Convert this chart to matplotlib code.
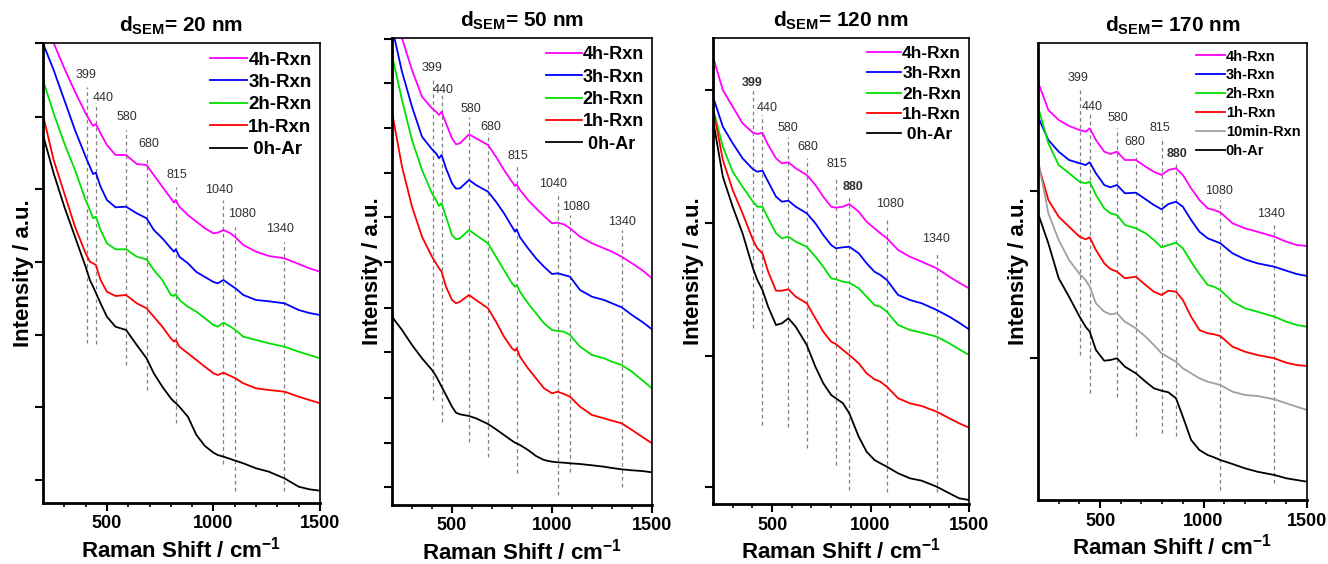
import matplotlib
matplotlib.use('Agg')
import matplotlib.pyplot as plt
from matplotlib.ticker import FixedLocator

plt.rcParams['font.family'] = ['Liberation Sans', 'DejaVu Sans']
plt.rcParams['mathtext.fontset'] = 'custom'
plt.rcParams['mathtext.rm'] = 'Liberation Sans'
plt.rcParams['mathtext.bf'] = 'Liberation Sans:bold'

# ---- d_SEM = 20 nm ----
x20 = [200, 250, 300, 350, 400, 420, 435, 448, 470, 500, 540, 590, 640, 686, 720, 760, 800, 815, 823, 840,
       880, 920, 960, 1000, 1020, 1047, 1080, 1103, 1140, 1200, 1260, 1333, 1400, 1450, 1500]
m20 = [490, 460, 434.7, 411.3, 389.7, 382.3, 377, 379, 369.7, 358, 348, 348, 339, 338, 328, 316.3, 304.7, 300.3, 303, 296.3,
       288, 281.3, 274.7, 269.7, 270.3, 273, 269.7, 265.7, 258, 251.3, 247, 244.7, 239, 234.7, 231.3]
b20 = [459.7, 433, 403, 373, 346.3, 336.3, 329, 330.3, 316.3, 303, 295.7, 296.3, 289.7, 284.7, 273, 264.7, 254.7, 251.3, 253.7, 246.3,
       239.7, 231, 226, 221, 219.7, 223, 218, 214.7, 208, 203, 201.7, 199.7, 193, 190, 188]
g20 = [423, 389.7, 359.7, 333, 303, 293, 284.7, 286.3, 273, 259.7, 253.7, 253.7, 246.3, 243.7, 233, 223, 208, 207, 209, 203,
       196.3, 191.3, 184.7, 178, 176.3, 180.3, 176.3, 173, 166.3, 163, 159.7, 156.3, 151.3, 148, 144.7]
r20 = [388, 343, 309.7, 276.3, 249.7, 241.3, 239.7, 238, 223, 211.3, 207, 208, 199.7, 194.7, 186.3, 176.3, 164.7, 161.3, 163, 156.3,
       149.7, 143, 136.3, 129.7, 128, 130.3, 127, 124.7, 119.7, 114.7, 113, 111.3, 106.3, 103, 99.7]
k20 = [368, 329.7, 296.3, 266.3, 236.3, 223, 216.3, 210.3, 199.7, 186.3, 176.3, 173, 158, 144.7, 129.7, 116.3, 104.7, 101.3, 100, 96.3,
       86.3, 68, 57, 50.3, 48, 46.3, 44, 42.3, 39.7, 34.7, 31.3, 24.7, 16.3, 13.7, 12.3]
peaks20 = ['399', '440', '580', '680', '815', '1040', '1080', '1340']
line20_x = [405, 448, 590, 686, 823, 1047, 1103, 1333]
line20_top = [416, 400, 373, 346, 316, 303, 276, 261]
line20_bot = [160, 159, 138, 113, 80, 39, 12, 12]
lab20_x = [402, 482, 595, 698, 830, 1027, 1136, 1314]
lab20_y = [428, 405, 386, 359, 328, 313, 289, 274]

# ---- d_SEM = 50 nm ----
x50 = [200, 250, 300, 350, 400, 420, 435, 448, 470, 500, 520, 540, 585, 620, 680, 720, 760, 800, 815, 823,
       840, 880, 920, 960, 1000, 1028, 1060, 1090, 1140, 1200, 1260, 1300, 1348, 1400, 1450, 1500]
m50 = [510, 466.7, 435, 408.3, 396.7, 393.3, 390, 393.3, 381.7, 366.7, 360.7, 361.7, 370.7, 366.7, 360, 348.3, 335, 323.3, 319, 320.7,
       315, 305, 296.7, 289, 281.7, 282.3, 280.7, 276.7, 268.3, 261.7, 256.7, 253.3, 248.3, 241.7, 235, 226.7]
b50 = [478, 433.3, 398.3, 368.3, 355.7, 351.7, 346.7, 350, 336.7, 321.7, 316.3, 316.7, 325, 320, 313.3, 303.3, 291.7, 278.3, 273.3, 275.7,
       267.7, 256.7, 246.7, 238.3, 231, 231.7, 230, 228.3, 215, 208.3, 205, 201.7, 197.7, 190, 183.3, 175.7]
g50 = [450, 405, 365, 335, 311.7, 305, 299, 301.7, 288.3, 270, 265.7, 266.7, 275, 270, 261.7, 248.3, 235, 221.7, 218.3, 220,
       213.3, 201.7, 191.7, 181.7, 175, 174, 173.3, 170, 158.3, 150, 146.7, 143.3, 140, 133.3, 125, 116.7]
r50 = [393, 338.3, 298.3, 268.3, 248.3, 241.7, 236.7, 233.3, 218.3, 205, 201.7, 203.3, 210, 205, 196.7, 183.3, 168.3, 156.7, 154.3, 156.7,
       148.3, 136.7, 126.7, 116.7, 111.7, 113.3, 111, 108.3, 98.3, 90, 86.7, 84.3, 81.7, 75, 68.3, 61.7]
k50 = [188.3, 175, 160, 146.7, 135, 129, 123.3, 118.3, 110, 98.3, 92.3, 90.7, 89, 86.7, 81, 75.7, 70, 64.3, 62.3, 61.7,
       60, 55, 49, 45, 43.3, 42.7, 42.3, 41.7, 41, 39.7, 38.3, 37, 35.7, 34.7, 34, 32.7]
peaks50 = ['399', '440', '580', '680', '815', '1040', '1080', '1340']
line50_x = [403, 448, 585, 680, 823, 1028, 1090, 1348]
line50_top = [428, 410, 388, 372, 340, 313, 290, 275]
line50_bot = [105, 83, 63, 48, 32, 10, 33, 18]
lab50_x = [400, 455, 595, 695, 830, 1005, 1120, 1350]
lab50_y = [437, 415, 396, 378, 349, 321, 298, 283]

# ---- d_SEM = 120 nm ----
x120 = [200, 250, 300, 350, 403, 425, 451, 480, 520, 550, 583, 620, 676, 720, 760, 800, 824, 860, 892, 940,
        980, 1020, 1050, 1083, 1140, 1200, 1260, 1336, 1400, 1450, 1500]
m120 = [447, 414, 397.3, 380.7, 371.3, 370, 371.3, 359, 345.7, 340.7, 341.7, 335.7, 329, 319, 307.3, 297.3, 296.3, 297.3, 300, 292.3,
        282.3, 275.7, 270.7, 265.7, 254, 247.3, 242.3, 235.7, 227.3, 221.3, 215.7]
b120 = [407.3, 377.3, 360.7, 345.7, 334.7, 332.3, 333.3, 322.3, 307.3, 302.3, 303.3, 297.3, 290.7, 280.7, 269, 259, 255.7, 256.7, 257.3, 250.7,
        240.7, 232.3, 229, 224, 209, 204, 200.7, 194, 187.3, 181.3, 174.7]
g120 = [395.7, 357.3, 332.3, 317.3, 302.3, 297.3, 297.3, 285.7, 270.7, 265.7, 267.3, 262.3, 257.3, 247.3, 237.3, 225.7, 224.7, 222.3, 221.3, 215.7,
        207.3, 199, 197.3, 192.3, 179, 174, 171.3, 167.3, 160.7, 154.7, 149]
r120 = [395.7, 344, 314, 290.7, 264, 255.7, 250.7, 232.3, 213.3, 213.3, 214.7, 207.3, 200.7, 185.7, 172.3, 162.3, 160, 154, 149, 140.7,
        130.7, 124.7, 122.3, 117.3, 105.7, 100.7, 98, 92.3, 85.7, 80.7, 76.3]
k120 = [384, 327.3, 297.3, 270.7, 235.7, 224, 214, 197.3, 179, 180.7, 185.7, 177.3, 159, 137.3, 120.7, 109, 105.7, 100.7, 90.7, 67.3,
        52.3, 44, 40.7, 37.3, 30.7, 25.7, 23.3, 17.3, 10.7, 5.7, 4]
peaks120 = ['399', '440', '580', '680', '815', '880', '1080', '1340']
line120_x = [403, 451, 583, 676, 824, 892, 1083, 1336]
line120_top = [414, 389, 367, 346, 327, 307, 286, 251]
line120_bot = [176, 79, 77, 56, 39, 14, 12, 12]
lab120_x = [397, 473, 580, 681, 828, 909, 1098, 1332]
lab120_y = [421, 396, 376, 357, 340, 317, 300, 265]

# ---- d_SEM = 170 nm ----
x170 = [200, 250, 300, 350, 401, 430, 450, 480, 520, 550, 582, 620, 673, 720, 760, 797, 830, 867, 900, 940,
        980, 1020, 1050, 1081, 1140, 1200, 1260, 1342, 1400, 1450, 1500]
m170 = [418, 390, 380, 374, 370, 368.3, 371.7, 360, 348.3, 346, 348.3, 340, 340, 333.3, 328.3, 325, 330, 331.7, 325, 311.7,
        300, 291.7, 290, 287.7, 276.7, 271.7, 268.3, 263.3, 258.3, 255, 254]
b170 = [383.3, 360, 348.3, 340, 336.7, 335, 337.7, 326.7, 315, 312.7, 315, 306.7, 307.3, 300.7, 295, 290.7, 296, 298.3, 293.3, 280,
        268.3, 261.7, 259.3, 256.7, 246.7, 240.7, 236.7, 233.3, 229.3, 226, 224]
g170 = [393.3, 356.7, 335, 326.7, 318.3, 316.7, 318.3, 305, 291.7, 286.7, 285, 275, 271.7, 266.7, 260, 252.7, 255, 257.3, 251.7, 238.3,
        226, 215, 213.3, 210, 198.3, 191.7, 188.3, 183.3, 178.3, 175, 173.3]
r170 = [336.7, 300, 283.3, 273.3, 263.3, 260.7, 262.7, 250, 236.7, 231, 228.3, 221.7, 223.3, 215, 208.3, 205, 209.3, 208.3, 200, 183.3,
        170, 166.7, 165.7, 164, 153.3, 148.3, 145, 141.7, 137.3, 135, 134]
w170 = [340, 286.7, 260, 240, 226, 220, 213.3, 196.7, 188.3, 185.7, 186.7, 178.3, 171.7, 163.3, 155, 146.7, 142.7, 138.3, 131.7, 126.7,
        121.7, 118.3, 116.7, 115, 108.3, 105, 104, 100.7, 96.7, 93.3, 90]
k170 = [286.7, 256.7, 221.7, 203.3, 183.3, 173.3, 168.3, 150, 139.3, 140, 141.7, 133.3, 126.7, 118.3, 111.7, 109.3, 107.7, 101.7, 83.3, 60,
        50, 45, 42.7, 40, 36, 31.7, 28.3, 25, 21.7, 20, 18.3]
peaks170 = ['399', '440', '580', '680', '815', '880', '1080', '1340']
line170_x = [401, 450, 582, 673, 797, 867, 1081, 1342]
line170_top = [412, 387, 372, 348, 363, 337, 300, 277]
line170_bot = [145, 107, 103, 64, 67, 64, 10, 17]
lab170_x = [395, 462, 588, 670, 791, 873, 1076, 1327]
lab170_y = [422, 393, 382, 358, 372, 346, 309, 286]

C4, C3, C2, C1, CW, C0 = '#ff00ff', '#0000ff', '#00e000', '#ff0000', '#a0a0a0', '#000000'

panels = [
    dict(title='20', rect=[43, 43, 320, 503], ymax=460, yt=[23, 96, 168, 241, 314, 386, 460],
         x=x20, series=[(m20, C4, '4h-Rxn'), (b20, C3, '3h-Rxn'), (g20, C2, '2h-Rxn'), (r20, C1, '1h-Rxn'), (k20, C0, ' 0h-Ar')],
         peaks=peaks20, lx=line20_x, lt=line20_top, lb=line20_bot, tx=lab20_x, ty=lab20_y, bold=[], lfs=13.5, ls=0.28),
    dict(title='50', rect=[392, 38, 652, 505], ymax=467, yt=[18, 62, 107, 153, 197, 243, 288, 332, 377, 422, 466],
         x=x50, series=[(m50, C4, '4h-Rxn'), (b50, C3, '3h-Rxn'), (g50, C2, '2h-Rxn'), (r50, C1, '1h-Rxn'), (k50, C0, ' 0h-Ar')],
         peaks=peaks50, lx=line50_x, lt=line50_top, lb=line50_bot, tx=lab50_x, ty=lab50_y, bold=[], lfs=13, ls=0.3),
    dict(title='120', rect=[713, 38, 969, 504], ymax=466, yt=[17, 148, 281, 414],
         x=x120, series=[(m120, C4, '4h-Rxn'), (b120, C3, '3h-Rxn'), (g120, C2, '2h-Rxn'), (r120, C1, '1h-Rxn'), (k120, C0, ' 0h-Ar')],
         peaks=peaks120, lx=line120_x, lt=line120_top, lb=line120_bot, tx=lab120_x, ty=lab120_y, bold=['399', '880'], lfs=12.5, ls=0.3),
    dict(title='170', rect=[1038, 43, 1307, 500], ymax=457, yt=[142, 309],
         x=x170, series=[(m170, C4, '4h-Rxn'), (b170, C3, '3h-Rxn'), (g170, C2, '2h-Rxn'), (r170, C1, '1h-Rxn'),
                         (w170, CW, '10min-Rxn'), (k170, C0, '0h-Ar')],
         peaks=peaks170, lx=line170_x, lt=line170_top, lb=line170_bot, tx=lab170_x, ty=lab170_y, bold=['880'], lfs=10.5, ls=0.33),
]

W, H = 1328, 564
fig = plt.figure(figsize=(W / 100, H / 100), dpi=100)

for p in panels:
    l, t, r, b = p['rect']
    ax = fig.add_axes([l / W, 1 - b / H, (r - l) / W, (b - t) / H])

    # dashed guide lines and peak labels
    ax.vlines(p['lx'], p['lb'], p['lt'], colors='#808080', linestyles=(0, (3, 2.5)), lw=0.9, zorder=1)
    for s, xx, yy in zip(p['peaks'], p['tx'], p['ty']):
        ax.text(xx, yy, s, ha='center', va='center', fontsize=9, color='#303030',
                fontweight='bold' if s in p['bold'] else 'normal')

    handles = []
    for ys, c, lab in p['series']:
        ln, = ax.plot(p['x'], ys, color=c, lw=1.3, label=lab, zorder=2)
        handles.append(ln)
    ax.legend(handles=handles, loc='upper right', frameon=False,
              prop=dict(weight='bold', size=p['lfs']), handlelength=2.0, handletextpad=0.05,
              labelspacing=p['ls'], borderaxespad=0.25, borderpad=0.2)

    ax.set_xlim(200, 1500)
    ax.set_ylim(0, p['ymax'])
    ax.set_xticks([500, 1000, 1500])
    ax.xaxis.set_minor_locator(FixedLocator([300, 400, 600, 700, 800, 900, 1100, 1200, 1300, 1400]))
    ax.set_yticks(p['yt'])
    ax.set_yticklabels([])
    ax.tick_params(axis='x', which='major', direction='out', length=6, width=1.5, pad=3, labelsize=13)
    ax.tick_params(axis='x', which='minor', direction='out', length=3, width=1.2)
    ax.tick_params(axis='y', which='major', direction='out', length=6, width=1.5)
    for lbl in ax.get_xticklabels():
        lbl.set_fontweight('bold')
    for side in ['left', 'bottom']:
        ax.spines[side].set_linewidth(2.0)
    for side in ['top', 'right']:
        ax.spines[side].set_linewidth(1.2)

    ax.set_title(r'$\mathbf{d}_{\mathbf{SEM}}$= ' + p['title'] + ' nm', fontsize=15, fontweight='bold', pad=8)
    ax.set_xlabel(r'Raman Shift / cm$^{\mathbf{-1}}$', fontsize=16, fontweight='bold', labelpad=3)
    ax.set_ylabel('Intensity / a.u.', fontsize=16, fontweight='bold', labelpad=-3)

fig.savefig('out.png', dpi=100)
